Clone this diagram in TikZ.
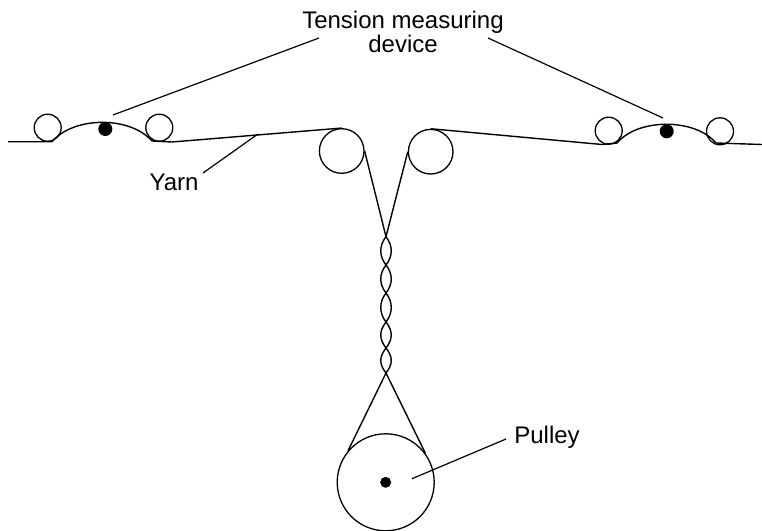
\documentclass[tikz,border=0pt]{standalone}
\usepackage{fontspec}
\setmainfont{Liberation Sans}
\tikzset{
    yarnline/.style={black, line width=1.4pt},
    leaderline/.style={black, line width=1.2pt},
    roller/.style={circle, draw=black, line width=1.3pt, inner sep=0pt, minimum size=#1},
    blackdot/.style={circle, fill=black, inner sep=0pt, minimum size=#1},
    lbl/.style={font=\fontsize{24}{28}\selectfont, inner sep=0pt, anchor=base}
}
\begin{document}
\begin{tikzpicture}[x=1pt, y=-1pt]
    \useasboundingbox (0,0) rectangle (762,530);
    % rollers
    \node[roller=27pt] (rollA) at (47.7,127.7) {};
    \node[roller=27pt] (rollB) at (159.3,127.7) {};
    \node[roller=27pt] (rollC) at (608.7,130.7) {};
    \node[roller=27pt] (rollD) at (720,131.3) {};
    \node[roller=44.6pt] (guideL) at (341.7,151) {};
    \node[roller=44.6pt] (guideR) at (430.7,151.7) {};
    \node[roller=97pt] (pulley) at (385.7,482.3) {};
    \node[blackdot=14pt] (dotL) at (105.3,129) {};
    \node[blackdot=14pt] (dotR) at (666.7,131.3) {};
    \node[blackdot=11pt] (axle) at (385.7,482.3) {};
    % labels
    \node[lbl] (tension) at (403,28) {Tension measuring};
    \node[lbl] (device) at (403,52) {device};
    \node[lbl] (yarn) at (174,190) {Yarn};
    \node[lbl] (pulleytxt) at (547,443) {Pulley};
    % yarn, left and right
    \draw[yarnline] (8,141.7) -- (52,141.7) .. controls (74,116) and (130,116) .. (152,141)
        -- (172,142) -- (guideL.north);
    \draw[yarnline] (guideR.north) -- (602,144.5) -- (617,143)
        .. controls (638,118) and (695,118) .. (716,143) -- (762,144.5);
    % down to the twist
    \coordinate (twistT) at (386,236.7);
    \coordinate (twistB) at (386,373);
    \draw[yarnline] (guideL.east) -- (twistT);
    \draw[yarnline] (guideR.west) -- (twistT);
    \foreach \a/\b in {236.7/265,265/293,293/322,322/348,348/373}{
        \draw[yarnline] (386,\a) .. controls (379,\a+9) and (379,\b-9) .. (386,\b);
        \draw[yarnline] (386,\a) .. controls (393,\a+9) and (393,\b-9) .. (386,\b);
    }
    % round the pulley
    \draw[yarnline] (twistB) -- (pulley.140);
    \draw[yarnline] (twistB) -- (pulley.36);
    % leaders
    \coordinate (leadA) at (113,115);
    \coordinate (tensA) at (319,38);
    \coordinate (leadB) at (663,118);
    \coordinate (tensB) at (488,38);
    \coordinate (leadC) at (258,134);
    \coordinate (yarnA) at (203,173);
    \coordinate (leadD) at (412,478.7);
    \coordinate (pulA) at (506,439);
    \draw[leaderline] (tensA) -- (leadA);
    \draw[leaderline] (tensB) -- (leadB);
    \draw[leaderline] (yarnA) -- (leadC);
    \draw[leaderline] (pulA) -- (leadD);
\end{tikzpicture}
\end{document}
